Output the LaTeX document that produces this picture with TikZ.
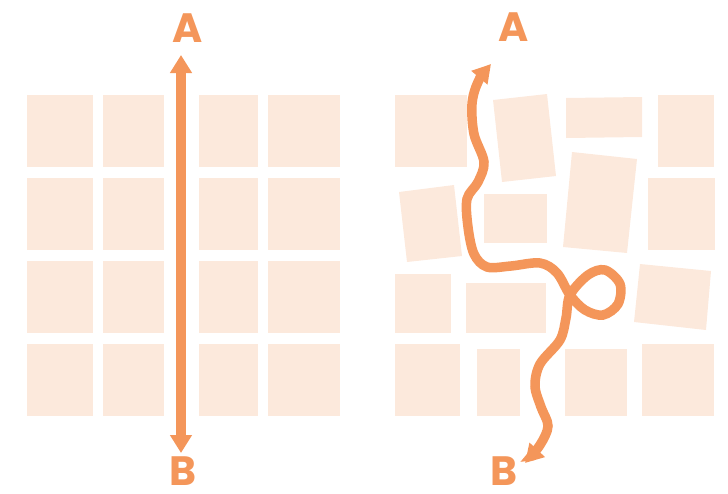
\documentclass[tikz,border=0pt]{standalone}
\usepackage{fontspec}
\setmainfont{Poppins}
\usetikzlibrary{arrows.meta}
\definecolor{pathorange}{RGB}{244,150,90}
\definecolor{tilepeach}{RGB}{252,233,220}

\begin{document}
\begin{tikzpicture}[x=1pt, y=-1pt,
    tile/.style={fill=tilepeach},
    endlabel/.style={font=\fontsize{41}{41}\selectfont\bfseries, text=pathorange, inner sep=0pt},
    straightroute/.style={draw=pathorange, line width=9.5pt,
      {Triangle[width=21pt,length=18pt]}-{Triangle[width=21pt,length=18pt]}},
    wavyroute/.style={draw=pathorange, line width=9.5pt, line cap=round,
      {Triangle[width=20pt,length=18pt]}-{Triangle[width=20pt,length=18pt]}}]
    %% pixel grid: 728 x 493, y grows downwards
    \useasboundingbox (0,0) rectangle (728,493);

    % ---- LEFT GRID (regular) ----
    \foreach \xa/\xb in {27/93, 103/164, 199/258, 268/340} {
      \foreach \ya/\yb in {95/167, 178/250, 261/333, 344/416} {
        \fill[tile] (\xa,\ya) rectangle (\xb,\yb);
      }
    }
    % labels and straight path
    \node[endlabel] (A1) at (188,28) {A};
    \node[endlabel] (B1) at (183,471) {B};
    \coordinate (tipA1) at (181,55);
    \coordinate (tipB1) at (181,453);
    \draw[straightroute] (tipA1) -- (tipB1);

    % ---- RIGHT GRID (shifted tiles) ----
    % row 1
    \fill[tile] (395,95) rectangle (467,167);
    \fill[tile] (493,100) -- (547,94) -- (556,176) -- (502,182) -- cycle;
    \fill[tile] (566,98) -- (642,97) -- (642,137) -- (566,138) -- cycle;
    \fill[tile] (658,95) rectangle (714,167);
    % row 2
    \fill[tile] (399,192) -- (454,185) -- (462,256) -- (407,262) -- cycle;
    \fill[tile] (484,194) rectangle (547,243);
    \fill[tile] (572,152) -- (637,159) -- (627,253) -- (563,247) -- cycle;
    \fill[tile] (648,178) rectangle (715,250);
    % row 3
    \fill[tile] (395,274) rectangle (451,333);
    \fill[tile] (466,283) rectangle (546,333);
    \fill[tile] (640,264) -- (711,271) -- (706,330) -- (634,322) -- cycle;
    % row 4
    \fill[tile] (395,344) rectangle (460,416);
    \fill[tile] (477,349) rectangle (520,416);
    \fill[tile] (565,349) rectangle (627,416);
    \fill[tile] (642,344) rectangle (714,416);

    % labels and wavy path
    \node[endlabel] (A2) at (514,27) {A};
    \node[endlabel] (B2) at (504,471) {B};
    \coordinate (tipA2) at (491,64);
    \coordinate (tipB2) at (525,463);
    \draw[wavyroute] plot[smooth, tension=0.55] coordinates {
      (tipA2) (478,82) (472,104) (474,134) (484,162) (478,182) (467,199)
      (468,227) (474,254) (487,267) (511,266) (540,263) (557,273)
      (570,295) (585,310) (603,315) (618,304) (620,284) (605,270)
      (588,275) (570,295) (566,318) (560,340) (540,364) (535,386)
      (541,407) (548,426) (540,445) (tipB2)};

\end{tikzpicture}
\end{document}
